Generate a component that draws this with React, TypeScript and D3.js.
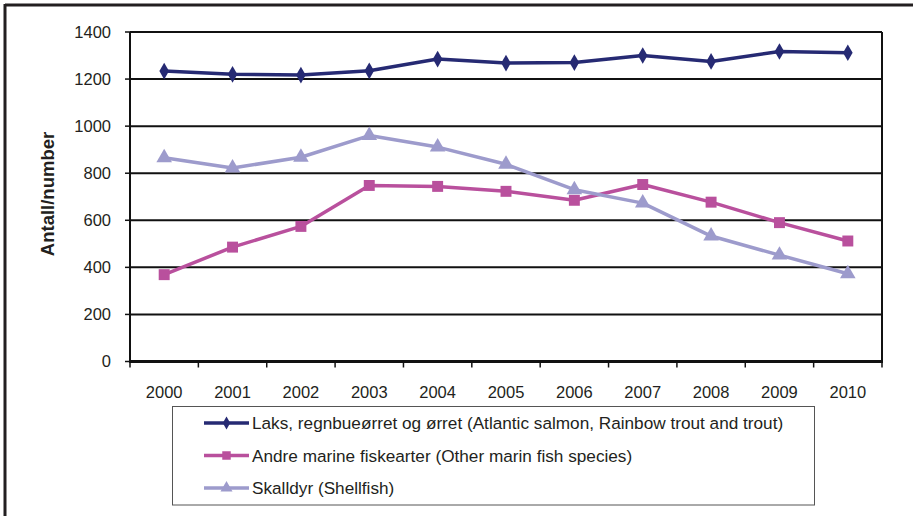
import React from "react";
import * as d3 from "d3";

const years = ["2000","2001","2002","2003","2004","2005","2006","2007","2008","2009","2010"];
const laks = [1234, 1220, 1217, 1235, 1285, 1268, 1270, 1300, 1275, 1317, 1312];
const andre = [369, 486, 574, 748, 744, 723, 685, 752, 677, 590, 512];
const skalldyr = [866, 822, 868, 960, 911, 838, 730, 673, 533, 452, 373];
const yTicks = [0, 200, 400, 600, 800, 1000, 1200, 1400];
const seriesNames = [
  "Laks, regnbueørret og ørret (Atlantic salmon, Rainbow trout and trout)",
  "Andre marine fiskearter (Other marin fish species)",
  "Skalldyr (Shellfish)",
];
const yTitle = "Antall/number";

const W = 913, H = 516;
const L = 130, R = 882, T = 32, B = 361.5;
const font = "'Liberation Sans', Arial, sans-serif";

export default function App() {
  const x = d3.scaleBand<string>().domain(years).range([L, R]);
  const y = d3.scaleLinear().domain([0, 1400]).range([B, T]);
  const cx = (yr: string) => (x(yr) as number) + x.bandwidth() / 2;

  const series = [
    { name: seriesNames[0], values: laks, color: "#262a73", marker: d3.symbolDiamond, size: 80 },
    { name: seriesNames[1], values: andre, color: "#b9509d", marker: d3.symbolSquare, size: 120 },
    { name: seriesNames[2], values: skalldyr, color: "#9d9bcc", marker: d3.symbolTriangle, size: 105 },
  ];

  const line = d3.line<number>().x((_, i) => cx(years[i])).y((v) => y(v));

  const bounds = [...years.map((yr) => x(yr) as number), R];

  return (
    <svg width={W} height={H} style={{ position: "absolute", left: 0, top: 0, background: "#fff" }} fontFamily={font}>
      {/* outer frame */}
      <line x1={5} x2={W} y1={5} y2={5} stroke="#231f20" strokeWidth={3} />
      <line x1={5} x2={5} y1={4} y2={H} stroke="#231f20" strokeWidth={3} />

      {/* gridlines */}
      {yTicks.filter((t) => t > 0).map((t) => (
        <line key={t} x1={L} x2={R} y1={y(t)} y2={y(t)} stroke="#111" strokeWidth={2} />
      ))}
      {/* plot frame */}
      <line x1={L} x2={L} y1={T} y2={B} stroke="#111" strokeWidth={2} />
      <line x1={R} x2={R} y1={T} y2={B} stroke="#111" strokeWidth={2} />
      <line x1={L - 1} x2={R + 1} y1={B} y2={B} stroke="#111" strokeWidth={3} />

      {/* y ticks and labels */}
      {yTicks.map((t) => (
        <g key={t}>
          <line x1={L - 5} x2={L} y1={y(t)} y2={y(t)} stroke="#111" strokeWidth={1.5} />
          <text x={L - 19} y={y(t)} dy="0.35em" textAnchor="end" fontSize={16.5} fill="#231f20">{t}</text>
        </g>
      ))}
      {/* x ticks and labels */}
      {bounds.map((b, i) => (
        <line key={i} x1={b} x2={b} y1={B} y2={B + 6} stroke="#111" strokeWidth={1.5} />
      ))}
      {years.map((yr) => (
        <text key={yr} x={cx(yr)} y={392} dy="0.35em" textAnchor="middle" fontSize={16.5} fill="#231f20">{yr}</text>
      ))}

      {/* y title */}
      <text transform={`translate(48,194) rotate(-90)`} textAnchor="middle" dy="0.35em" fontSize={18.5} fontWeight="bold" fill="#231f20">{yTitle}</text>

      {/* series */}
      {series.map((s) => (
        <g key={s.name}>
          <path d={line(s.values) as string} fill="none" stroke={s.color} strokeWidth={3.5} strokeLinejoin="round" />
          {s.values.map((v, i) => (
            <path key={i} d={d3.symbol(s.marker, s.size)() as string} transform={`translate(${cx(years[i])},${y(v)})`} fill={s.color} />
          ))}
        </g>
      ))}

      {/* legend */}
      <rect x={172.5} y={406.5} width={642} height={98.5} fill="#fff" stroke="#555" strokeWidth={1} />
      {series.map((s, i) => {
        const ly = 423 + i * 32.5;
        return (
          <g key={s.name}>
            <line x1={204} x2={249} y1={ly} y2={ly} stroke={s.color} strokeWidth={3.5} />
            <path d={d3.symbol(s.marker, s.size * 0.6)() as string} transform={`translate(226.5,${ly})`} fill={s.color} />
            <text x={252} y={ly} dy="0.35em" fontSize={17.2} fill="#231f20">{s.name}</text>
          </g>
        );
      })}
    </svg>
  );
}
